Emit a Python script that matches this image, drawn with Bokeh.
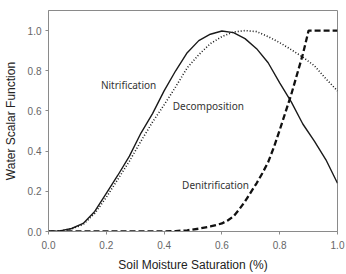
from bokeh.plotting import figure
from bokeh.models import Range1d, FixedTicker, Label, CustomJSTickFormatter
from bokeh.embed import file_html
from bokeh.resources import INLINE

# Soil moisture saturation (fraction) and water scalar for each process
nit_x = [0.00, 0.04, 0.08, 0.12, 0.16, 0.20, 0.24, 0.28, 0.32, 0.36, 0.40, 0.44, 0.48,
         0.52, 0.56, 0.60, 0.64, 0.68, 0.72, 0.76, 0.80, 0.84, 0.88, 0.92, 0.96, 1.00]
nit_y = [0.0, 0.003, 0.015, 0.04, 0.10, 0.19, 0.28, 0.375, 0.49, 0.587, 0.70, 0.80, 0.89,
         0.95, 0.982, 0.998, 0.99, 0.96, 0.91, 0.84, 0.74, 0.645, 0.535, 0.45, 0.357, 0.24]

dec_x = [0.00, 0.04, 0.08, 0.12, 0.16, 0.20, 0.24, 0.28, 0.32, 0.36, 0.40, 0.44, 0.48,
         0.52, 0.56, 0.60, 0.64, 0.68, 0.72, 0.76, 0.80, 0.84, 0.88, 0.92, 0.96, 1.00]
dec_y = [0.0, 0.003, 0.013, 0.035, 0.09, 0.17, 0.26, 0.35, 0.45, 0.545, 0.63, 0.72, 0.815,
         0.88, 0.935, 0.97, 0.993, 1.0, 0.995, 0.97, 0.94, 0.905, 0.868, 0.825, 0.76, 0.70]

den_x = [0.00, 0.40, 0.44, 0.48, 0.52, 0.56, 0.60, 0.62, 0.64, 0.66, 0.68, 0.70, 0.72,
         0.74, 0.76, 0.78, 0.80, 0.84, 0.88, 0.90, 1.00]
den_y = [0.0, 0.0, 0.002, 0.006, 0.014, 0.025, 0.04, 0.055, 0.075, 0.11, 0.15, 0.195, 0.24,
         0.29, 0.345, 0.42, 0.505, 0.682, 0.882, 1.0, 1.0]

x_ticks = [0.0, 0.2, 0.4, 0.6, 0.8, 1.0]
y_ticks = [0.0, 0.2, 0.4, 0.6, 0.8, 1.0]

p = figure(width=346, height=274, output_backend="svg", toolbar_location=None,
           x_range=Range1d(0, 1.0), y_range=Range1d(0, 1.1),
           min_border_left=48, min_border_right=9, min_border_top=10, min_border_bottom=41)

p.background_fill_color = "white"
p.border_fill_color = "white"
p.outline_line_color = "#8a8a8a"
p.outline_line_width = 1
p.xgrid.visible = False
p.ygrid.visible = False

fmt = CustomJSTickFormatter(code="return tick.toFixed(1);")
for ax, ticks in ((p.xaxis[0], x_ticks), (p.yaxis[0], y_ticks)):
    ax.ticker = FixedTicker(ticks=ticks)
    ax.formatter = fmt
    ax.minor_tick_line_color = None
    ax.major_tick_in = 0
    ax.major_tick_out = 3
    ax.axis_line_color = "#8a8a8a"
    ax.major_tick_line_color = "#8a8a8a"
    ax.major_label_text_font = "Liberation Sans"
    ax.major_label_text_font_size = "10px"
    ax.major_label_text_color = "#666666"
    ax.axis_label_text_font = "Liberation Sans"
    ax.axis_label_text_font_size = "12px"
    ax.axis_label_text_font_style = "normal"
    ax.axis_label_text_color = "#222222"

p.xaxis.axis_label = "Soil Moisture Saturation (%)"
p.yaxis.axis_label = "Water Scalar Function"
p.xaxis.major_label_standoff = 6
p.xaxis.axis_label_standoff = 6
p.yaxis.major_label_standoff = 4
p.yaxis.axis_label_standoff = 7

p.line(nit_x, nit_y, line_color="#1a1a1a", line_width=1.4)
p.line(dec_x, dec_y, line_color="#1a1a1a", line_width=1.6, line_dash="1 2")
p.line(den_x, den_y, line_color="#111111", line_width=2.3, line_dash="6 3")

for txt, lx, ly in (("Nitrification", 0.277, 0.73),
                    ("Decomposition", 0.553, 0.627),
                    ("Denitrification", 0.578, 0.229)):
    p.add_layout(Label(x=lx, y=ly, text=txt, text_align="center", text_baseline="middle",
                       text_font="Noto Sans", text_font_size="10px", text_color="#333333"))

open("out.html", "w").write(file_html(p, INLINE))
